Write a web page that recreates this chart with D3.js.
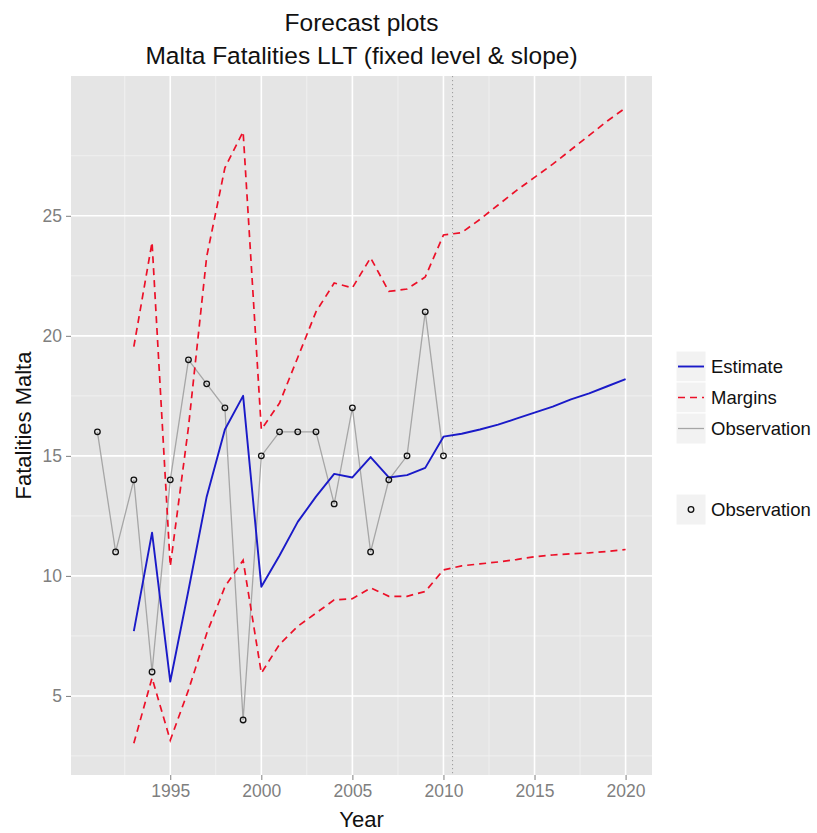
<!DOCTYPE html>
<html>
<head>
<meta charset="utf-8">
<script src="https://cdn.jsdelivr.net/npm/d3@7"></script>
<style>
  html, body { margin: 0; padding: 0; background: #ffffff; }
  svg { display: block; }
  text { font-family: "Liberation Sans", Arial, sans-serif; }
</style>
</head>
<body>
<svg id="chart" width="817" height="833"></svg>
<script>
// ---------------- data ----------------
const obsYears = [1991,1992,1993,1994,1995,1996,1997,1998,1999,2000,
                  2001,2002,2003,2004,2005,2006,2007,2008,2009,2010];
const observation = [16,11,14,6,14,19,18,17,4,15,16,16,16,13,17,11,14,15,21,15];

const fcYears = [1993,1994,1995,1996,1997,1998,1999,2000,2001,2002,
                 2003,2004,2005,2006,2007,2008,2009,2010,2011,2012,
                 2013,2014,2015,2016,2017,2018,2019,2020];
const estimate = [7.7,11.8,5.6,9.4,13.3,16.1,17.5,9.55,10.85,12.25,
                  13.3,14.25,14.1,14.95,14.1,14.2,14.5,15.8,15.92,16.1,
                  16.3,16.55,16.8,17.05,17.35,17.6,17.9,18.2];
const upperMargin = [19.55,23.9,10.4,16.2,23.3,27.0,28.5,16.1,17.2,19.1,
                     21.0,22.2,22.0,23.25,21.85,21.95,22.45,24.2,24.3,24.85,
                     25.45,26.05,26.6,27.15,27.75,28.35,28.95,29.5];
const lowerMargin = [3.03,5.75,3.15,5.25,7.6,9.55,10.65,5.95,7.15,7.9,
                     8.45,9.0,9.05,9.5,9.15,9.15,9.35,10.25,10.42,10.5,
                     10.58,10.68,10.8,10.87,10.92,10.96,11.02,11.1];

const forecastStart = 2010.5;
const xTicks = [1995,2000,2005,2010,2015,2020];
const xMinor = [1992.5,1997.5,2002.5,2007.5,2012.5,2017.5];
const yTicks = [5,10,15,20,25];
const yMinor = [2.5,7.5,12.5,17.5,22.5,27.5];
const titleLines = ["Forecast plots", "Malta Fatalities LLT (fixed level & slope)"];
const xTitle = "Year";
const yTitle = "Fatalities Malta";
const legendLines = ["Estimate", "Margins", "Observation"];
const legendPoints = ["Observation"];

// ---------------- layout ----------------
const svg = d3.select("#chart");
const P = { left: 71, right: 652, top: 76, bottom: 775 };

function expand(ext, f) {
  const r = ext[1] - ext[0];
  return [ext[0] - f * r, ext[1] + f * r];
}
const allYears = obsYears.concat(fcYears);
const allVals = observation.concat(estimate, upperMargin, lowerMargin);

const x = d3.scaleLinear().domain(expand(d3.extent(allYears), 0.05)).range([P.left, P.right]);
const y = d3.scaleLinear().domain(expand(d3.extent(allVals), 0.05)).range([P.bottom, P.top]);

// panel
svg.append("rect")
  .attr("x", P.left).attr("y", P.top)
  .attr("width", P.right - P.left).attr("height", P.bottom - P.top)
  .attr("fill", "#e5e5e5");

const grid = svg.append("g");
grid.selectAll(".ymin").data(yMinor.filter(v => y(v) > P.top && y(v) < P.bottom)).join("line")
  .attr("x1", P.left).attr("x2", P.right)
  .attr("y1", d => y(d)).attr("y2", d => y(d))
  .attr("stroke", "#f2f2f2").attr("stroke-width", 0.9);
grid.selectAll(".xmin").data(xMinor).join("line")
  .attr("y1", P.top).attr("y2", P.bottom)
  .attr("x1", d => x(d)).attr("x2", d => x(d))
  .attr("stroke", "#f2f2f2").attr("stroke-width", 0.9);
grid.selectAll(".ymaj").data(yTicks).join("line")
  .attr("x1", P.left).attr("x2", P.right)
  .attr("y1", d => y(d)).attr("y2", d => y(d))
  .attr("stroke", "#ffffff").attr("stroke-width", 1.6);
grid.selectAll(".xmaj").data(xTicks).join("line")
  .attr("y1", P.top).attr("y2", P.bottom)
  .attr("x1", d => x(d)).attr("x2", d => x(d))
  .attr("stroke", "#ffffff").attr("stroke-width", 1.6);

// axes
const xAxis = svg.append("g")
  .attr("transform", `translate(0,${P.bottom})`)
  .call(d3.axisBottom(x).tickValues(xTicks).tickFormat(d3.format("d")).tickSize(5).tickPadding(5));
const yAxis = svg.append("g")
  .attr("transform", `translate(${P.left},0)`)
  .call(d3.axisLeft(y).tickValues(yTicks).tickFormat(d3.format("d")).tickSize(5).tickPadding(4));
[xAxis, yAxis].forEach(a => {
  a.select(".domain").remove();
  a.selectAll(".tick line").attr("stroke", "#7f7f7f").attr("stroke-width", 1);
  a.selectAll(".tick text").attr("fill", "#7f7f7f")
    .style("font-size", "17.5px").style("font-family", "'Liberation Sans', Arial, sans-serif");
});

// forecast start line
svg.append("line")
  .attr("x1", x(forecastStart)).attr("x2", x(forecastStart))
  .attr("y1", P.top).attr("y2", P.bottom)
  .attr("stroke", "#9a9a9a").attr("stroke-width", 1)
  .attr("stroke-dasharray", "1.2,2.8");

// series
const obsData = obsYears.map((yr, i) => [yr, observation[i]]);
const estData = fcYears.map((yr, i) => [yr, estimate[i]]);
const upData = fcYears.map((yr, i) => [yr, upperMargin[i]]);
const loData = fcYears.map((yr, i) => [yr, lowerMargin[i]]);
const line = d3.line().x(d => x(d[0])).y(d => y(d[1]));

const BLUE = "#1a1ac8", RED = "#ec1028", GREY = "#a6a6a6";
svg.append("path").datum(obsData).attr("d", line)
  .attr("fill", "none").attr("stroke", GREY).attr("stroke-width", 1.3);
svg.append("path").datum(estData).attr("d", line)
  .attr("fill", "none").attr("stroke", BLUE).attr("stroke-width", 1.9)
  .attr("stroke-linejoin", "round");
[upData, loData].forEach(dd => {
  svg.append("path").datum(dd).attr("d", line)
    .attr("fill", "none").attr("stroke", RED).attr("stroke-width", 1.7)
    .attr("stroke-dasharray", "7,5");
});
svg.append("g").selectAll("circle").data(obsData).join("circle")
  .attr("cx", d => x(d[0])).attr("cy", d => y(d[1])).attr("r", 2.8)
  .attr("fill", "none").attr("stroke", "#111").attr("stroke-width", 1.3);

// titles
const cx = (P.left + P.right) / 2;
svg.append("text").attr("x", cx).attr("y", 31).attr("text-anchor", "middle")
  .style("font-size", "24.5px").attr("fill", "#111").text(titleLines[0]);
svg.append("text").attr("x", cx).attr("y", 64).attr("text-anchor", "middle")
  .style("font-size", "24.5px").attr("fill", "#111").text(titleLines[1]);
svg.append("text").attr("x", cx).attr("y", 827).attr("text-anchor", "middle")
  .style("font-size", "22px").attr("fill", "#111").text(xTitle);
svg.append("text")
  .attr("transform", `translate(31,${(P.top + P.bottom) / 2}) rotate(-90)`)
  .attr("text-anchor", "middle")
  .style("font-size", "22px").attr("fill", "#111").text(yTitle);

// legend
const L = { x: 676, w: 30, h: 31, y0: 351, tx: 711 };
const lg = svg.append("g");
const keyStyles = [
  { stroke: BLUE, width: 1.9, dash: null },
  { stroke: RED, width: 1.7, dash: "7,5" },
  { stroke: GREY, width: 1.3, dash: null }
];
legendLines.forEach((lab, i) => {
  const yy = L.y0 + i * L.h;
  lg.append("rect").attr("x", L.x).attr("y", yy).attr("width", L.w).attr("height", L.h)
    .attr("fill", "#f2f2f2").attr("stroke", "#ffffff").attr("stroke-width", 1);
  const k = keyStyles[i];
  const ln = lg.append("line").attr("x1", L.x + 2).attr("x2", L.x + L.w - 2)
    .attr("y1", yy + L.h / 2).attr("y2", yy + L.h / 2)
    .attr("stroke", k.stroke).attr("stroke-width", k.width);
  if (k.dash) ln.attr("stroke-dasharray", k.dash);
  lg.append("text").attr("x", L.tx).attr("y", yy + L.h / 2).attr("dy", "0.35em")
    .style("font-size", "18.5px").attr("fill", "#111").text(lab);
});
legendPoints.forEach((lab, i) => {
  const yy = 494 + i * L.h;
  lg.append("rect").attr("x", L.x).attr("y", yy).attr("width", L.w).attr("height", L.h)
    .attr("fill", "#f2f2f2").attr("stroke", "#ffffff").attr("stroke-width", 1);
  lg.append("circle").attr("cx", L.x + L.w / 2).attr("cy", yy + L.h / 2).attr("r", 2.8)
    .attr("fill", "none").attr("stroke", "#111").attr("stroke-width", 1.3);
  lg.append("text").attr("x", L.tx).attr("y", yy + L.h / 2).attr("dy", "0.35em")
    .style("font-size", "18.5px").attr("fill", "#111").text(lab);
});
</script>
</body>
</html>
